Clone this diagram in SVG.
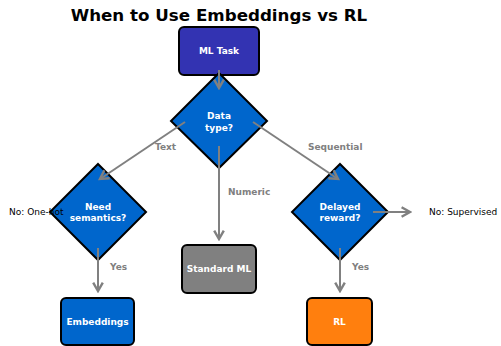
<svg xmlns="http://www.w3.org/2000/svg" width="501" height="346" viewBox="0 0 501 346">
<defs>
<marker id="ah" markerUnits="userSpaceOnUse" markerWidth="12" markerHeight="12" viewBox="-8 -5 10 10" refX="0" refY="0" orient="auto">
<path d="M-7,-4 L0,0 L-7,4" fill="none" stroke="#808080" stroke-width="2"/>
</marker>
<style>
.title{font-family:"DejaVu Sans",sans-serif;font-weight:bold;font-size:16.7px;fill:#000}
.nt{font-family:"DejaVu Sans",sans-serif;font-weight:bold;font-size:9px;fill:#fff;text-anchor:middle}
.el{font-family:"DejaVu Sans",sans-serif;font-weight:bold;font-size:9px;fill:#808080}
.bl{font-family:"DejaVu Sans",sans-serif;font-size:9px;fill:#000}
.box{stroke:#000;stroke-width:2}
.edge{stroke:#808080;stroke-width:2;fill:none;marker-end:url(#ah)}
</style>
</defs>
<rect width="501" height="346" fill="#fff"/>
<text class="title" x="219" y="21" text-anchor="middle">When to Use Embeddings vs RL</text>

<g id="n_mltask"><rect class="box" x="179" y="27" width="80" height="48" rx="5" fill="#3333b2"/><text class="nt" x="219" y="54">ML Task</text></g>
<g id="n_datatype"><polygon class="box" points="219,73 267,121 219,168 171,121" fill="#0066cc"/><text class="nt" x="219" y="119">Data</text><text class="nt" x="219" y="131">type?</text></g>
<g id="n_semantics"><polygon class="box" points="98,164 146,212 98,260 50,212" fill="#0066cc"/><text class="nt" x="98" y="210">Need</text><text class="nt" x="98" y="221">semantics?</text></g>
<g id="n_delayed"><polygon class="box" points="340,164 388,212 340,260 292,212" fill="#0066cc"/><text class="nt" x="340" y="210">Delayed</text><text class="nt" x="340" y="221">reward?</text></g>
<g id="n_standard"><rect class="box" x="182" y="245" width="74" height="48" rx="5" fill="#808080"/><text class="nt" x="219" y="272">Standard ML</text></g>
<g id="n_embeddings"><rect class="box" x="61" y="298" width="73" height="47" rx="5" fill="#0066cc"/><text class="nt" x="97.5" y="325">Embeddings</text></g>
<g id="n_rl"><rect class="box" x="307" y="298" width="65" height="47" rx="5" fill="#ff7f0e"/><text class="nt" x="339.5" y="325">RL</text></g>

<g id="edges">
<line class="edge" x1="219" y1="70" x2="219" y2="88"/>
<line class="edge" x1="185" y1="122" x2="100" y2="179"/>
<line class="edge" x1="253" y1="122" x2="338" y2="179"/>
<line class="edge" x1="219" y1="146" x2="219" y2="239"/>
<line class="edge" x1="98" y1="248" x2="98" y2="291"/>
<line class="edge" x1="340" y1="248" x2="340" y2="291"/>
<line class="edge" x1="373" y1="212" x2="410" y2="212"/>
<text class="el" x="155" y="150">Text</text>
<text class="el" x="308" y="150">Sequential</text>
<text class="el" x="228" y="195">Numeric</text>
<text class="el" x="110" y="270">Yes</text>
<text class="el" x="352" y="270">Yes</text>
</g>
<text class="bl" x="9" y="215">No: One-hot</text>
<text class="bl" x="429" y="215">No: Supervised</text>
</svg>
